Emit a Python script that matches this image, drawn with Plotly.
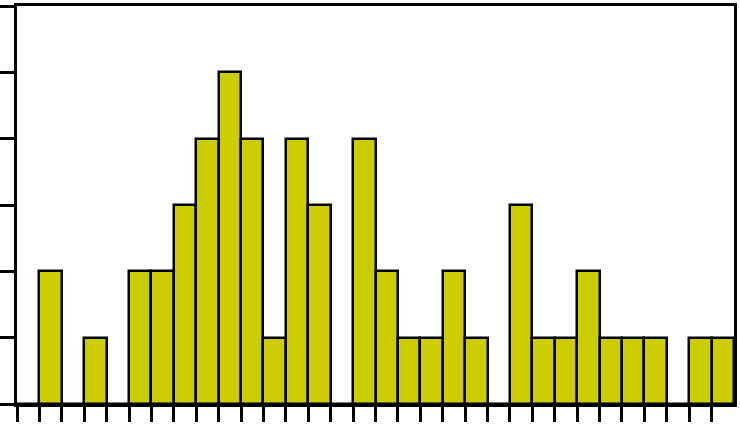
import plotly.graph_objects as go

# Histogram counts per bin (32 equal-width bins)
counts = [0, 2, 0, 1, 0, 2, 2, 3, 4, 5, 4, 1, 4, 3, 0, 4,
          2, 1, 1, 2, 1, 0, 3, 1, 1, 2, 1, 1, 1, 0, 1, 1]
bin_edges = list(range(0, 33))
x_ticks = bin_edges[:-1]
y_ticks = [0, 1, 2, 3, 4, 5, 6]

centers = [(bin_edges[i] + bin_edges[i + 1]) / 2 for i in range(len(counts))]

fig = go.Figure(go.Bar(
    x=centers,
    y=counts,
    width=1,
    marker=dict(color="#cccc00", line=dict(color="black", width=2.5)),
))

fig.update_layout(
    width=740, height=424,
    margin=dict(l=17, r=3, t=5, b=20, pad=0),
    paper_bgcolor="white", plot_bgcolor="white",
    showlegend=False,
    bargap=0,
)
fig.update_xaxes(
    range=[bin_edges[0], bin_edges[-1]],
    tickvals=x_ticks, showticklabels=False,
    ticks="outside", ticklen=15, tickwidth=2.5, tickcolor="black",
    showline=True, linecolor="black", linewidth=2.5, mirror=True,
    showgrid=False, zeroline=False,
)
fig.update_yaxes(
    range=[0, 6],
    tickvals=y_ticks, showticklabels=False,
    ticks="outside", ticklen=14, tickwidth=2.5, tickcolor="black",
    showline=True, linecolor="black", linewidth=2.5, mirror=True,
    showgrid=False, zeroline=False,
)

fig.write_html(
    "out.html",
    config={"displayModeBar": False},
    post_script="document.body.style.margin='0';document.body.style.padding='0';",
)
